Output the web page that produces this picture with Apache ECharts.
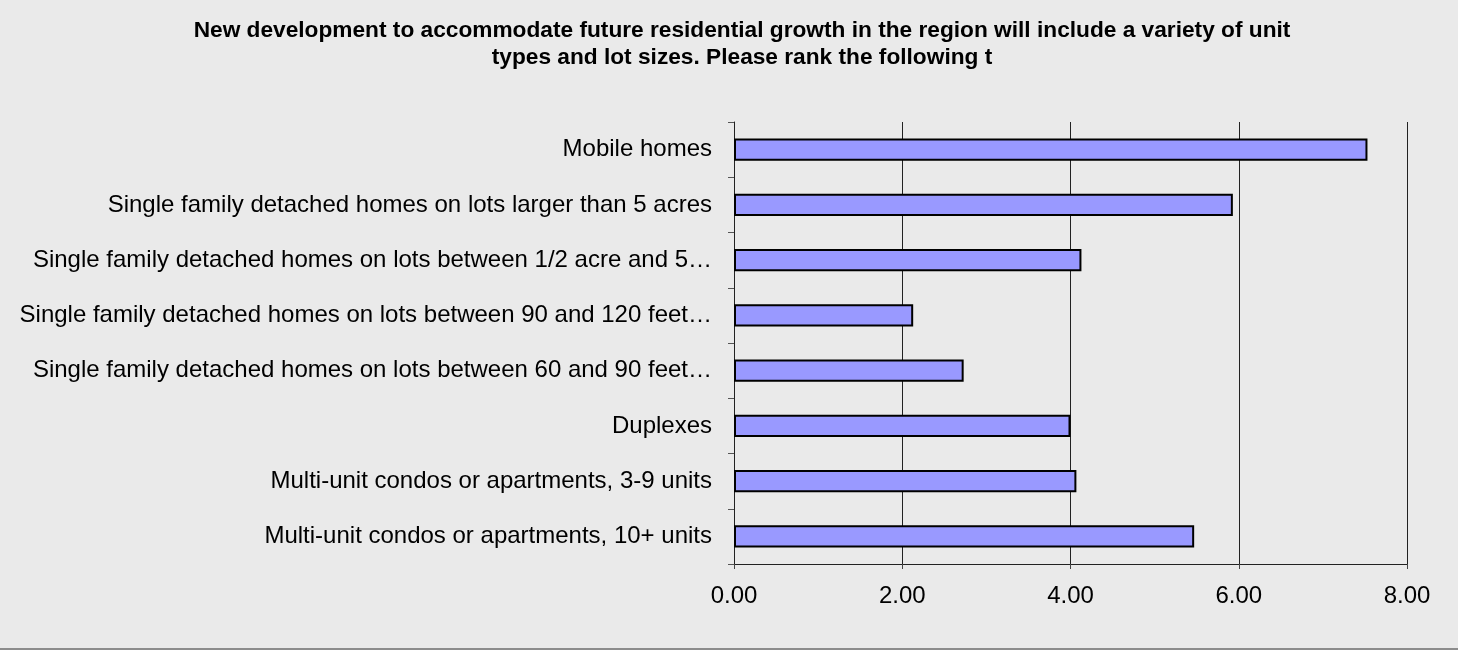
<!DOCTYPE html>
<html>
<head>
<meta charset="utf-8">
<script src="https://cdn.jsdelivr.net/npm/echarts@6/dist/echarts.min.js"></script>
<style>
  html, body { margin: 0; padding: 0; background: #EAEAEA; }
  #chart { width: 1458px; height: 648px; border-bottom: 2px solid #8C8C8C; background: #EAEAEA; }
</style>
</head>
<body>
<div id="chart"></div>
<script>
const titleLines = [
  "New development to accommodate future residential growth in the region will include a variety of unit",
  "types and lot sizes. Please rank the following t"
];
const categories = [
  "Mobile homes",
  "Single family detached homes on lots larger than 5 acres",
  "Single family detached homes on lots between 1/2 acre and 5\u2026",
  "Single family detached homes on lots between 90 and 120 feet\u2026",
  "Single family detached homes on lots between 60 and 90 feet\u2026",
  "Duplexes",
  "Multi-unit condos or apartments, 3-9 units",
  "Multi-unit condos or apartments, 10+ units"
];
const values = [7.53, 5.93, 4.13, 2.13, 2.73, 4.00, 4.07, 5.47];
const xMin = 0, xMax = 8, xStep = 2;

const font = '"Liberation Sans", Arial, sans-serif';
const chart = echarts.init(document.getElementById('chart'), null, { renderer: 'canvas' });
chart.setOption({
  backgroundColor: '#EAEAEA',
  animation: false,
  title: {
    text: titleLines.join('\n'),
    left: 737,
    textAlign: 'center',
    top: 12,
    textStyle: { fontFamily: font, fontSize: 22.7, fontWeight: 'bold', color: '#000', lineHeight: 27 }
  },
  grid: { left: 734, right: 51, top: 122, bottom: 84, containLabel: false },
  xAxis: {
    type: 'value',
    min: xMin, max: xMax, interval: xStep,
    axisLine: { show: true, lineStyle: { color: '#222', width: 1 } },
    axisTick: { show: true, length: 5, lineStyle: { color: '#444' } },
    splitLine: { show: true, lineStyle: { color: '#222', width: 1 } },
    axisLabel: {
      fontFamily: font, fontSize: 24, color: '#000', margin: 20,
      formatter: v => v.toFixed(2)
    }
  },
  yAxis: {
    type: 'category',
    data: categories,
    inverse: true,
    axisLine: { show: true, lineStyle: { color: '#222', width: 1 } },
    axisTick: { show: true, length: 6, lineStyle: { color: '#555' } },
    axisLabel: { fontFamily: font, fontSize: 24, color: '#000', margin: 22 }
  },
  series: [{
    type: 'bar',
    data: values,
    barCategoryGap: '60%',
    itemStyle: { color: '#9999FF', borderColor: '#000', borderWidth: 2 }
  }]
});
</script>
</body>
</html>
